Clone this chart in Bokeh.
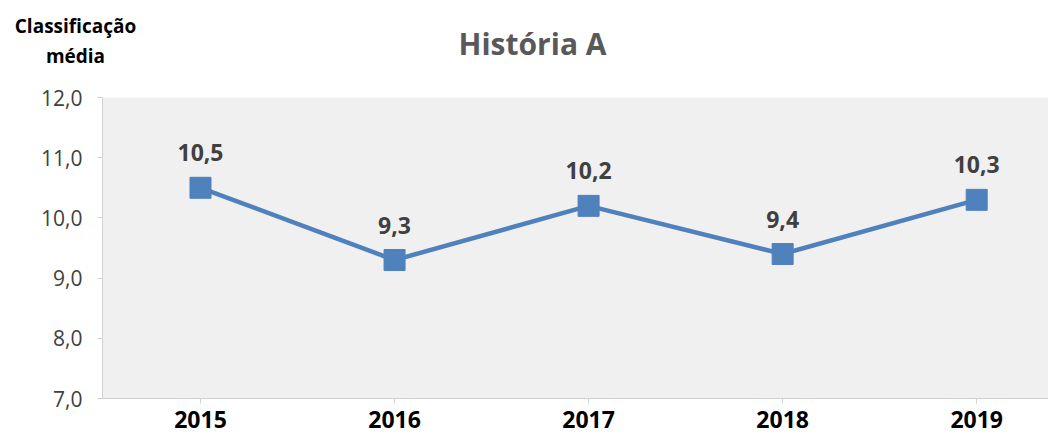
from bokeh.plotting import figure
from bokeh.layouts import column
from bokeh.models import ColumnDataSource, Range1d, FixedTicker
from bokeh.embed import file_html
from bokeh.resources import INLINE
from bokeh.core.properties import value

years = ["2015", "2016", "2017", "2018", "2019"]
scores = [10.5, 9.3, 10.2, 9.4, 10.3]
score_labels = ["10,5", "9,3", "10,2", "9,4", "10,3"]
y_ticks = [7.0, 8.0, 9.0, 10.0, 11.0, 12.0]
y_tick_labels = ["7,0", "8,0", "9,0", "10,0", "11,0", "12,0"]
title_text = "História A"
y_title_lines = ["Classificação", "média"]

FONT = "Open Sans"
BLUE = "#4f81bd"
W = 1048
HEAD_H = 85
MAIN_H = 350

# ---------- header (chart title + y-axis title) ----------
head = figure(width=W, height=HEAD_H, output_backend="svg", toolbar_location=None,
              x_range=Range1d(0, W), y_range=Range1d(HEAD_H, 0),
              min_border=0, x_axis_type=None, y_axis_type=None, frame_align=False)
head.outline_line_color = None
head.grid.grid_line_color = None
head_src = ColumnDataSource(dict(x=[532], y=[43], t=[title_text]))
head.text("x", "y", text="t", source=head_src, text_font=value(FONT),
          text_font_style="bold", text_font_size="30px", text_color="#595959",
          text_align="center", text_baseline="middle")
ytitle_src = ColumnDataSource(dict(x=[75, 75], y=[25, 55], t=y_title_lines))
head.text("x", "y", text="t", source=ytitle_src, text_font=value(FONT),
          text_font_style="bold", text_font_size="19px", text_color="#000000",
          text_align="center", text_baseline="middle")

# ---------- main chart ----------
xs = list(range(len(years)))
source = ColumnDataSource(dict(x=xs, y=scores, label=score_labels))

p = figure(width=W, height=MAIN_H, output_backend="svg", toolbar_location=None,
           x_range=Range1d(-0.505, 4.37), y_range=Range1d(7, 12), frame_align=False,
           min_border_left=102, min_border_right=0, min_border_top=12, min_border_bottom=37)

p.background_fill_color = "#f0f0f0"
p.border_fill_color = "white"
p.outline_line_color = None
p.xgrid.grid_line_color = None
p.ygrid.grid_line_color = None

p.line("x", "y", source=source, line_color=BLUE, line_width=4.5)
p.scatter("x", "y", source=source, marker="square", size=21,
          fill_color=BLUE, line_color=BLUE)
p.text("x", "y", text="label", source=source, text_font=value(FONT),
       text_font_style="bold", text_font_size="23px", text_color="#404040",
       text_align="center", text_baseline="middle", y_offset=-35)

# x axis
p.xaxis.ticker = FixedTicker(ticks=xs)
p.xaxis.major_label_overrides = {i: years[i] for i in xs}
p.xaxis.axis_line_color = "#d0d0d0"
p.xaxis.major_tick_line_color = "#d0d0d0"
p.xaxis.minor_tick_line_color = None
p.xaxis.major_tick_out = 5
p.xaxis.major_tick_in = 0
p.xaxis.major_label_standoff = 7
p.xaxis.major_label_text_font = FONT
p.xaxis.major_label_text_font_style = "bold"
p.xaxis.major_label_text_font_size = "23px"
p.xaxis.major_label_text_color = "#000000"

# y axis
p.yaxis.ticker = FixedTicker(ticks=y_ticks)
p.yaxis.major_label_overrides = {t: l for t, l in zip(y_ticks, y_tick_labels)}
p.yaxis.axis_line_color = "#d0d0d0"
p.yaxis.major_tick_line_color = "#d0d0d0"
p.yaxis.minor_tick_line_color = None
p.yaxis.major_tick_out = 5
p.yaxis.major_tick_in = 0
p.yaxis.major_label_standoff = 15
p.yaxis.major_label_text_font = FONT
p.yaxis.major_label_text_font_size = "21px"
p.yaxis.major_label_text_color = "#404040"

layout = column(head, p, spacing=0)
open("out.html", "w").write(file_html(layout, INLINE))
